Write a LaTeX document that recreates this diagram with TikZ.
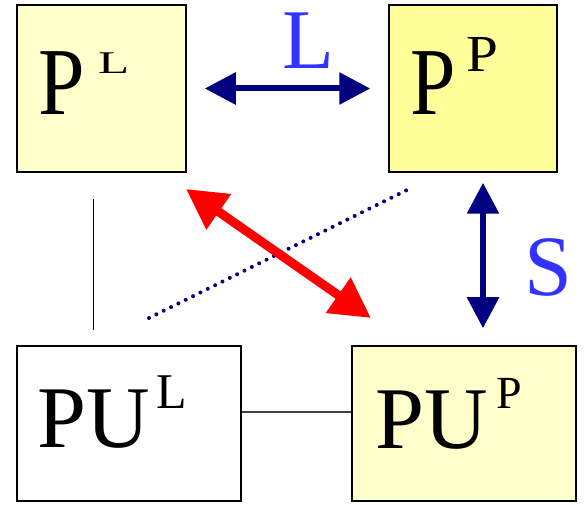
\documentclass[tikz,border=0pt]{standalone}
\usepackage{fontspec}
\setmainfont{Liberation Serif}
\usetikzlibrary{arrows.meta}
\definecolor{lightyel}{HTML}{FFFFCC}
\definecolor{midyel}{HTML}{FFFF99}
\definecolor{navyc}{HTML}{000080}
\definecolor{labblue}{HTML}{3333FF}
\definecolor{redc}{HTML}{FF0000}
\newcommand{\fsz}[1]{\fontsize{#1}{#1}\selectfont}
\tikzset{
  box/.style={draw=black, line width=1.5pt, inner sep=0pt, rectangle},
  txt/.style={anchor=base west, inner sep=0pt, outer sep=0pt},
  navyarrow/.style={draw=navyc, line width=6pt, {Triangle[length=31pt,width=31pt]}-{Triangle[length=31pt,width=31pt]}},
  redarrow/.style={draw=redc, line width=9pt, {Triangle[length=40pt,width=41pt]}-{Triangle[length=40pt,width=41pt]}},
  dotline/.style={draw=navyc, line width=4pt, line cap=round, dash pattern=on 0pt off 8.2pt},
  thinline/.style={draw=black, line width=1pt},
}
\begin{document}
\begin{tikzpicture}[x=1pt,y=1pt]
\useasboundingbox (0,0) rectangle (584,504);
% boxes
\node[box, fill=lightyel, minimum width=169pt, minimum height=167pt] (PL) at (101.5,415.5) {};
\node[box, fill=midyel, minimum width=168pt, minimum height=167pt] (PP) at (473,415.5) {};
\node[box, fill=white, minimum width=224pt, minimum height=155pt] (PUL) at (129,80.5) {};
\node[box, fill=lightyel, minimum width=224pt, minimum height=155pt] (PUP) at (464,80.5) {};
% texts
\node[txt] (tPL) at (38.7,389) {\scalebox{0.87}[1]{\fsz{96}P}};
\node[txt] (tPLs) at (98,430) {\scalebox{1}[0.62]{\fsz{51}L}};
\node[txt] (tPP) at (410.7,389) {\scalebox{0.85}[1]{\fsz{96}P}};
\node[txt] (tPPs) at (466,432) {\scalebox{1.1}[1]{\fsz{52}P}};
\node[txt] (tPUL) at (37.6,57) {\fsz{88}PU};
\node[txt] (tPULs) at (156.4,96) {\fsz{50}L};
\node[txt] (tPUP) at (375.6,56) {\fsz{88}PU};
\node[txt] (tPUPs) at (496.3,96) {\fsz{46}P};
\node[txt, text=labblue] (lL) at (282,435) {\fsz{85}L};
\node[txt, text=labblue] (lS) at (524.4,208.2) {\fsz{86}S};
% coordinates
\coordinate (r1) at (186,315);
\coordinate (r2) at (371,186);
\coordinate (d1) at (149,186);
\coordinate (d2) at (411,316);
\coordinate (v1) at (93,305);
\coordinate (v2) at (93,174);
% connectors
\draw[navyarrow, shorten <=18pt, shorten >=18pt] (PL.east) -- (PP.west);
\draw[navyarrow, shorten <=10pt, shorten >=17pt] ([xshift=10pt]PP.south) -- ([xshift=19pt]PUP.north);
\draw[dotline] (d1) -- (d2);
\draw[redarrow] (r1) -- (r2);
\draw[thinline] (v1) -- (v2);
\draw[draw=black!75, line width=1.2pt] ([yshift=11.5pt]PUL.east) -- ([yshift=11.5pt]PUP.west);
\end{tikzpicture}
\end{document}
